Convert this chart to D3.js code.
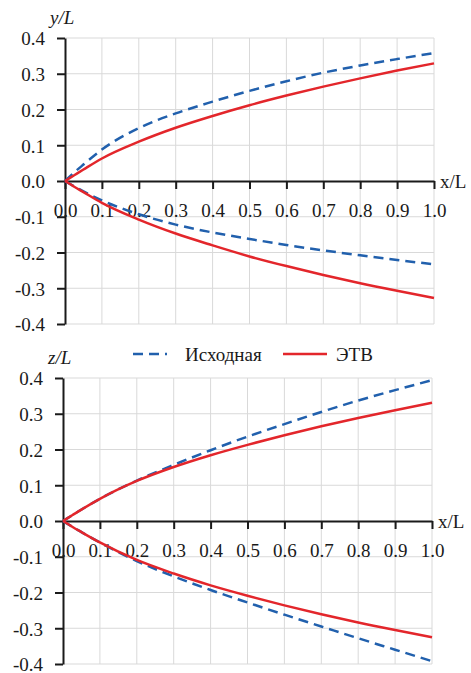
<!DOCTYPE html>
<html>
<head>
<meta charset="utf-8">
<script src="https://cdn.jsdelivr.net/npm/d3@7"></script>
<style>
  body { margin: 0; background: #fff; }
  text { font-family: "Liberation Serif", "Times New Roman", serif; fill: #1a1a1a; }
</style>
</head>
<body>
<div id="chart"></div>
<script>
// x/L positions along the element
const xs = [0, 0.025, 0.05, 0.1, 0.2, 0.3, 0.4, 0.5, 0.6, 0.7, 0.8, 0.9, 1.0];

// top panel: y/L
const yInitUp = [0, 0.024, 0.046, 0.088, 0.148, 0.189, 0.222, 0.252, 0.279, 0.303, 0.323, 0.341, 0.358];
const yInitDown = [0, -0.015, -0.029, -0.054, -0.093, -0.122, -0.144, -0.162, -0.179, -0.194, -0.208, -0.221, -0.233];
const yEtvUp = [0, 0.016, 0.032, 0.063, 0.110, 0.149, 0.182, 0.212, 0.239, 0.264, 0.287, 0.309, 0.329];
const yEtvDown = [0, -0.016, -0.031, -0.061, -0.108, -0.147, -0.180, -0.211, -0.238, -0.263, -0.286, -0.307, -0.327];

// bottom panel: z/L
const zInitUp = [0, 0.016, 0.032, 0.062, 0.113, 0.157, 0.198, 0.236, 0.271, 0.305, 0.337, 0.366, 0.394];
const zInitDown = [0, -0.016, -0.031, -0.060, -0.112, -0.155, -0.193, -0.228, -0.262, -0.295, -0.328, -0.360, -0.392];
const zEtvUp = [0, 0.016, 0.032, 0.062, 0.112, 0.151, 0.184, 0.213, 0.240, 0.265, 0.288, 0.310, 0.331];
const zEtvDown = [0, -0.016, -0.031, -0.060, -0.109, -0.147, -0.180, -0.209, -0.236, -0.261, -0.284, -0.305, -0.325];

const xTicks = [0, 0.1, 0.2, 0.3, 0.4, 0.5, 0.6, 0.7, 0.8, 0.9, 1.0];
const yTicks = [-0.4, -0.3, -0.2, -0.1, 0, 0.1, 0.2, 0.3, 0.4];
const seriesNames = ["Исходная", "ЭТВ"];

const blue = "#2160ad";
const red = "#e3262b";
const serif = "Liberation Serif, Times New Roman, serif";

const svg = d3.select("#chart").append("svg")
    .attr("width", 471)
    .attr("height", 673);

function drawPanel(box, axisLabel, initUp, initDown, etvUp, etvDown) {
    const x = d3.scaleLinear().domain([0, 1]).range([box.left, box.right]);
    const y = d3.scaleLinear().domain([-0.4, 0.4]).range([box.bottom, box.top]);
    const g = svg.append("g");

    // grid
    g.selectAll(".vgrid").data(xTicks.slice(1)).enter().append("line")
        .attr("x1", d => x(d)).attr("x2", d => x(d))
        .attr("y1", y(0.4)).attr("y2", y(-0.4))
        .attr("stroke", "#d9d9d9").attr("stroke-width", 1);
    g.selectAll(".hgrid").data(yTicks.filter(d => d !== 0)).enter().append("line")
        .attr("x1", x(0)).attr("x2", x(1))
        .attr("y1", d => y(d)).attr("y2", d => y(d))
        .attr("stroke", "#d9d9d9").attr("stroke-width", 1);

    // y axis
    const yAxis = g.append("g")
        .attr("transform", `translate(${x(0)},0)`)
        .call(d3.axisLeft(y).tickValues(yTicks)
            .tickFormat(d => d3.format(".1f")(d).replace("−", "-"))
            .tickSizeInner(8).tickSizeOuter(0).tickPadding(12));

    // x axis along zero line
    const xAxis = g.append("g")
        .attr("transform", `translate(0,${y(0)})`)
        .call(d3.axisBottom(x).tickValues(xTicks).tickFormat(d3.format(".1f"))
            .tickSizeInner(8).tickSizeOuter(0).tickPadding(15));

    [yAxis, xAxis].forEach(a => {
        a.attr("font-family", null).attr("font-size", null);
        a.selectAll("text")
            .style("font-family", serif)
            .style("font-size", "19px")
            .attr("fill", "#1a1a1a");
        a.select(".domain").attr("stroke", "#1a1a1a").attr("stroke-width", 2);
        a.selectAll(".tick line").attr("stroke", "#1a1a1a").attr("stroke-width", 2);
    });
    yAxis.selectAll("text").attr("dy", "0.36em");

    g.append("text").attr("x", box.right + 6).attr("y", y(0) + 7)
        .style("font-size", "19px").text("x/L");
    g.append("text").attr("x", box.left - 15).attr("y", box.top - 14)
        .style("font-size", "19px").style("font-style", "italic").text(axisLabel);

    const line = d3.line().x((d, i) => x(xs[i])).y(d => y(d)).curve(d3.curveMonotoneX);

    [initUp, initDown].forEach(s => {
        g.append("path").datum(s).attr("d", line)
            .attr("fill", "none").attr("stroke", blue)
            .attr("stroke-width", 2.5).attr("stroke-dasharray", "10,6");
    });
    [etvUp, etvDown].forEach(s => {
        g.append("path").datum(s).attr("d", line)
            .attr("fill", "none").attr("stroke", red)
            .attr("stroke-width", 2.5);
    });
}

drawPanel({ left: 65, right: 434, top: 38, bottom: 324 }, "y/L", yInitUp, yInitDown, yEtvUp, yEtvDown);
drawPanel({ left: 63, right: 432, top: 378, bottom: 664 }, "z/L", zInitUp, zInitDown, zEtvUp, zEtvDown);

// legend
const legend = svg.append("g");
legend.append("line").attr("x1", 133).attr("x2", 167).attr("y1", 354).attr("y2", 354)
    .attr("stroke", blue).attr("stroke-width", 2.5).attr("stroke-dasharray", "10,6");
legend.append("text").attr("x", 185).attr("y", 361).style("font-size", "19px").text(seriesNames[0]);
legend.append("line").attr("x1", 283).attr("x2", 327).attr("y1", 354).attr("y2", 354)
    .attr("stroke", red).attr("stroke-width", 2.5);
legend.append("text").attr("x", 336).attr("y", 361).style("font-size", "19px").text(seriesNames[1]);
</script>
</body>
</html>
